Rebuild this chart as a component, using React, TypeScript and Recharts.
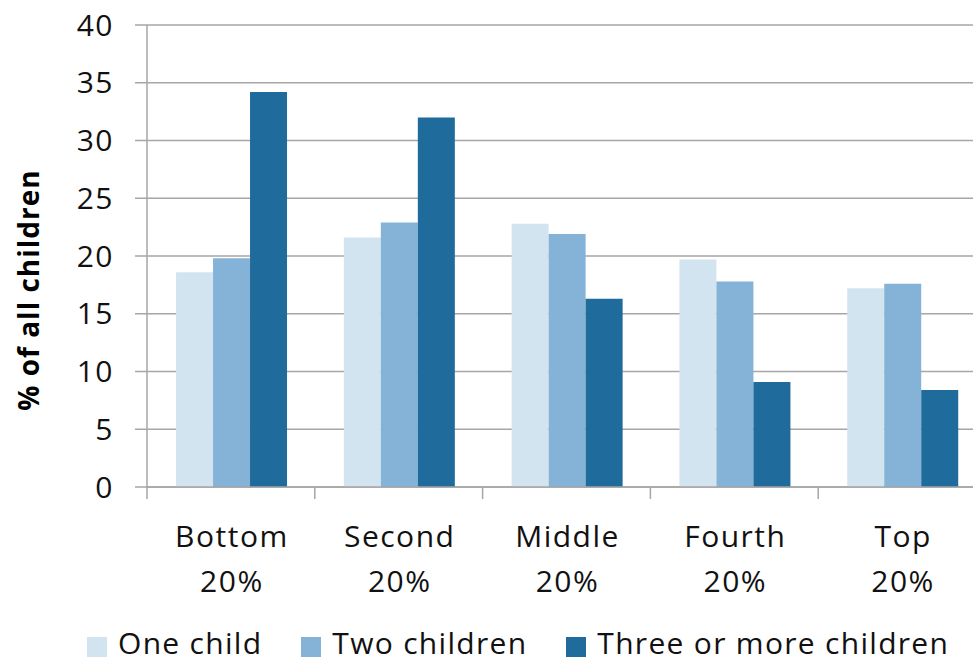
import React from 'react';
import { BarChart, Bar, XAxis, YAxis, CartesianGrid, Legend } from 'recharts';

const quintiles = ['Bottom', 'Second', 'Middle', 'Fourth', 'Top'];
const quintileShare = ['20%', '20%', '20%', '20%', '20%'];
const oneChild = [18.6, 21.6, 22.8, 19.7, 17.2];
const twoChildren = [19.8, 22.9, 21.9, 17.8, 17.6];
const threeOrMore = [34.2, 32.0, 16.3, 9.1, 8.4];
const yTicks = [0, 5, 10, 15, 20, 25, 30, 35, 40];
const seriesNames = ['One child', 'Two children', 'Three or more children'];
const seriesColors = ['#d3e4f1', '#85b3d8', '#1f6b9c'];

const data = quintiles.map((q, i) => ({
  name: q,
  share: quintileShare[i],
  one: oneChild[i],
  two: twoChildren[i],
  three: threeOrMore[i],
}));

const FONT = '"Open Sans", sans-serif';
const GRID = '#a6a6a6';

const CategoryTick = (props: any) => {
  const { x, y, payload, index, width, visibleTicksCount } = props;
  const band = width / visibleTicksCount;
  const bx = x - band / 2;
  return (
    <g>
      <line x1={bx} y1={y} x2={bx} y2={y + 12} stroke={GRID} strokeWidth={1.5} />
      <text x={x + 1} y={y + 60} textAnchor="middle" fontFamily={FONT} fontSize={30} letterSpacing={1.5} fill="#111">
        {payload.value}
      </text>
      <text x={x + 1} y={y + 105} textAnchor="middle" fontFamily={FONT} fontSize={30} letterSpacing={1.5} fill="#111">
        {quintileShare[index]}
      </text>
    </g>
  );
};

const YLabel = (props: any) => {
  const { viewBox } = props;
  const cx = viewBox.x + 39;
  const cy = viewBox.y + viewBox.height / 2 + 34;
  return (
    <text
      x={cx}
      y={cy}
      transform={`rotate(-90, ${cx}, ${cy})`}
      textAnchor="middle"
      fontFamily={FONT}
      fontWeight="bold"
      fontSize={28}
      letterSpacing={1}
      fill="#000"
    >
      % of all children
    </text>
  );
};

const LegendContent = () => {
  return (
    <div style={{ display: 'flex', alignItems: 'flex-start', fontFamily: FONT, fontSize: 30, color: '#111', whiteSpace: 'nowrap', letterSpacing: 1.3 }}>
      {seriesNames.map((name, i) => (
        <div key={name} style={{ display: 'flex', alignItems: 'flex-start', marginRight: 39 }}>
          <span style={{ display: 'inline-block', width: 20, height: 20, background: seriesColors[i], marginRight: 11, marginTop: 6 }} />
          <span style={{ lineHeight: '24px' }}>{name}</span>
        </div>
      ))}
    </div>
  );
};

export default function App() {
  return (
    <div style={{ position: 'absolute', left: 0, top: 0, width: 973, height: 658, overflow: 'hidden', background: '#fff' }}>
      <BarChart
        width={1000}
        height={658}
        data={data}
        margin={{ top: 25, right: 14, bottom: 0, left: 0 }}
        barCategoryGap="17.3%"
        barGap={0}
      >
        <CartesianGrid vertical={false} stroke={GRID} strokeWidth={1.5} />
        <XAxis
          dataKey="name"
          height={171}
          tickLine={false}
          tickSize={0}
          tickMargin={0}
          axisLine={{ stroke: GRID, strokeWidth: 1.5 }}
          tick={<CategoryTick />}
          interval={0}
        />
        <YAxis
          width={147}
          domain={[0, 40]}
          ticks={yTicks}
          tickSize={12}
          tickMargin={21}
          tickLine={{ stroke: GRID, strokeWidth: 1.5 }}
          axisLine={{ stroke: GRID, strokeWidth: 1.5 }}
          tick={{ fontFamily: FONT, fontSize: 30, fill: '#111', letterSpacing: 1.5 }}
          label={<YLabel />}
        />
        <Legend
          layout="horizontal"
          verticalAlign="middle"
          align="center"
          wrapperStyle={{ top: 631, left: 87, width: 880, height: 24 }}
          content={<LegendContent />}
        />
        <Bar dataKey="one" name={seriesNames[0]} fill={seriesColors[0]} isAnimationActive={false} />
        <Bar dataKey="two" name={seriesNames[1]} fill={seriesColors[1]} isAnimationActive={false} />
        <Bar dataKey="three" name={seriesNames[2]} fill={seriesColors[2]} isAnimationActive={false} />
      </BarChart>
    </div>
  );
}
